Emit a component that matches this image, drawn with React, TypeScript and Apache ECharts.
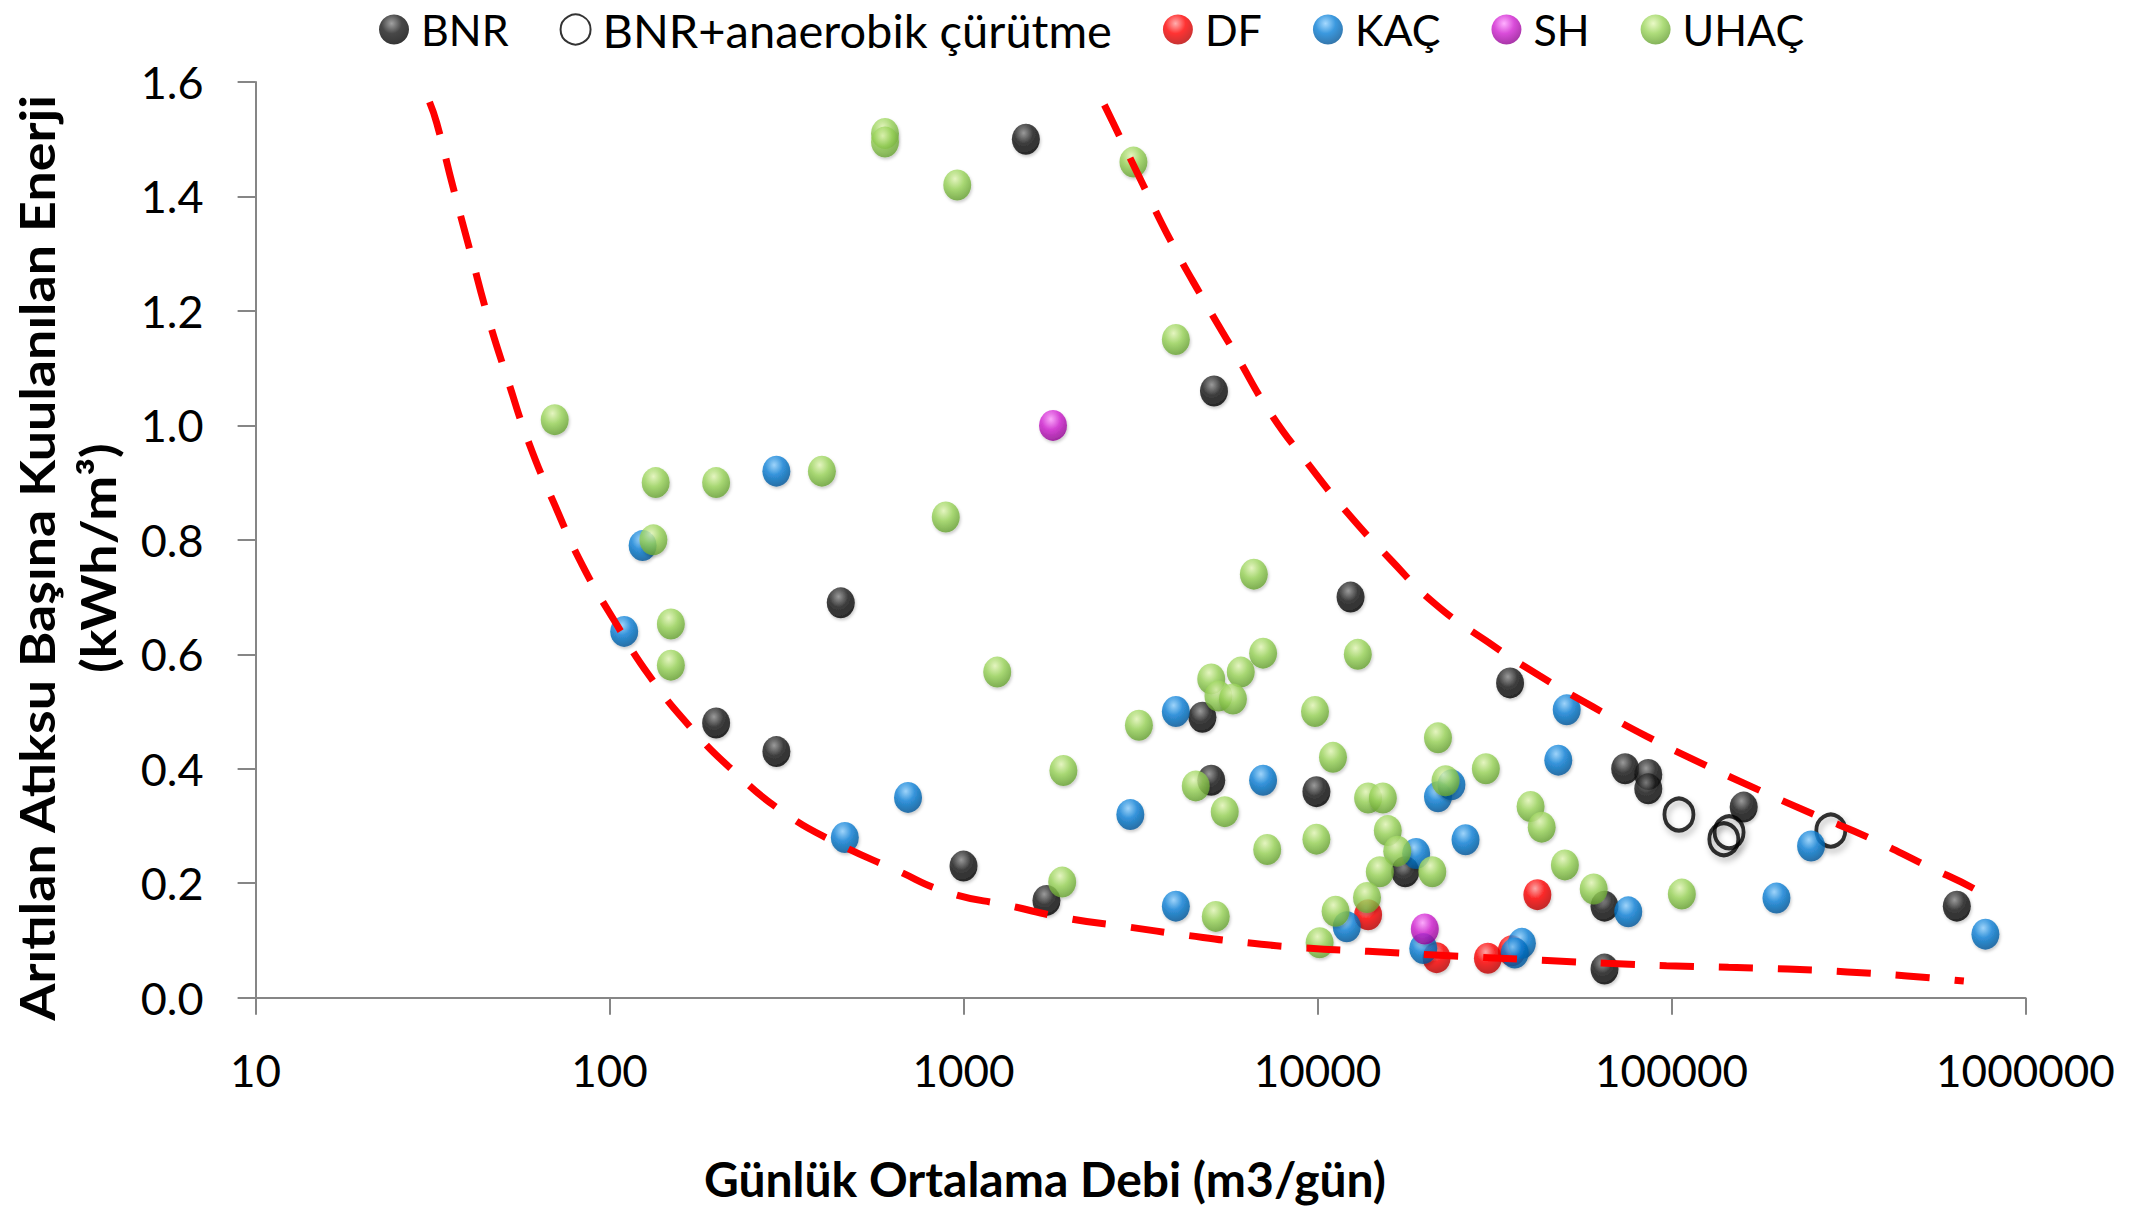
import React, { useEffect, useRef } from 'react';
import * as echarts from 'echarts';

const seriesNames = ['BNR', 'BNR+anaerobik çürütme', 'DF', 'KAÇ', 'SH', 'UHAÇ'];
const xTickValues = [10, 100, 1000, 10000, 100000, 1000000];
const yTickLabels = ['0.0', '0.2', '0.4', '0.6', '0.8', '1.0', '1.2', '1.4', '1.6'];

const xTitle = 'Günlük Ortalama Debi (m3/gün)';
const yTitleLines = ['Arıtılan Atıksu Başına Kuulanılan Enerji', '(kWh/m³)'];

const bnr: number[][] = [
  [1500, 1.5], [5100, 1.06], [450, 0.69], [12400, 0.7], [200, 0.48], [296, 0.43],
  [1000, 0.23], [1715, 0.17], [35000, 0.55], [4730, 0.49], [5010, 0.38], [9930, 0.36],
  [17700, 0.22], [74000, 0.4], [86000, 0.39], [86000, 0.365], [160000, 0.333],
  [640000, 0.16], [64700, 0.05], [64700, 0.16],
];
const bnrAnaerobic: number[][] = [
  [105000, 0.32], [140600, 0.277], [145500, 0.289], [282000, 0.292],
];
const df: number[][] = [
  [41800, 0.18], [13900, 0.145], [21700, 0.07], [30300, 0.069], [35400, 0.082],
];
const kac: number[][] = [
  [110, 0.64], [124, 0.79], [462, 0.28], [697, 0.35], [296, 0.92], [2960, 0.32],
  [3980, 0.5], [7020, 0.38], [3980, 0.16], [12100, 0.124], [19900, 0.086],
  [21900, 0.351], [23900, 0.372], [19000, 0.252], [26200, 0.276], [50600, 0.503],
  [47900, 0.415], [75500, 0.15], [198000, 0.174], [37800, 0.095], [36100, 0.078],
  [248000, 0.265], [771000, 0.111],
];
const sh: number[][] = [
  [1790, 1.0], [20100, 0.12],
];
const uhac: number[][] = [
  [600, 1.51], [600, 1.495], [70, 1.01], [135, 0.9], [200, 0.9], [398, 0.92],
  [133, 0.8], [960, 1.42], [3020, 1.46], [3980, 1.15], [891, 0.84], [149, 0.653],
  [149, 0.581], [6610, 0.74], [1245, 0.569], [13000, 0.6], [7020, 0.602],
  [6070, 0.569], [5010, 0.557], [5250, 0.527], [5770, 0.522], [3130, 0.476],
  [9840, 0.5], [21900, 0.454], [11060, 0.42], [29900, 0.4], [23000, 0.379],
  [1915, 0.397], [4530, 0.37], [5470, 0.325], [13900, 0.349], [15300, 0.349],
  [7210, 0.259], [9930, 0.277], [15800, 0.292], [16800, 0.256], [15000, 0.22],
  [21100, 0.22], [40000, 0.334], [43000, 0.298], [1900, 0.202], [5160, 0.142],
  [13800, 0.175], [11250, 0.151], [10140, 0.096], [50000, 0.232], [60300, 0.19],
  [107000, 0.181],
];
const lowerBound: number[][] = [
  [31, 1.565], [32.5, 1.528], [36.1, 1.417], [40.4, 1.304], [45.3, 1.19],
  [51.6, 1.079], [59.2, 0.969], [70, 0.861], [83.9, 0.755], [103.8, 0.656],
  [129.7, 0.562], [168.4, 0.474], [224, 0.396], [310, 0.324], [439, 0.27],
  [640, 0.224], [904, 0.184], [1340, 0.161], [1955, 0.139], [2890, 0.124],
  [4280, 0.109], [6330, 0.096], [9240, 0.087], [13900, 0.081], [20800, 0.075],
  [44600, 0.065], [65600, 0.06], [96800, 0.056], [145000, 0.053], [213000, 0.05],
  [314000, 0.045], [463000, 0.038], [670000, 0.029],
];
const upperBound: number[][] = [
  [2500, 1.56], [2650, 1.528], [3200, 1.423], [3860, 1.321], [4740, 1.222],
  [5890, 1.123], [7320, 1.024], [9370, 0.934], [12200, 0.846], [16000, 0.767],
  [21400, 0.689], [30200, 0.622], [42300, 0.563], [59700, 0.509], [84900, 0.457],
  [122000, 0.409], [175000, 0.364], [251000, 0.321], [363000, 0.279],
  [520000, 0.232], [738000, 0.186], [800000, 0.168],
];

function ball(light: string, mid: string, dark: string) {
  return new echarts.graphic.RadialGradient(0.42, 0.3, 0.75, [
    { offset: 0, color: light },
    { offset: 0.45, color: mid },
    { offset: 1, color: dark },
  ]);
}

const FONT = 'Lato';
const AXIS_COLOR = '#868686';

export default function App() {
  const ref = useRef<HTMLDivElement>(null);

  useEffect(() => {
    if (!ref.current) return;
    const chart = echarts.init(ref.current, undefined, { renderer: 'svg' });

    const dotSize = [28, 31];
    const scatter = (name: string, data: number[][], color: any, z: number) => ({
      name,
      type: 'scatter',
      data,
      symbol: 'circle',
      symbolSize: dotSize,
      z,
      itemStyle: {
        color,
        shadowBlur: 3,
        shadowColor: 'rgba(0,0,0,0.25)',
        shadowOffsetX: 1,
        shadowOffsetY: 2,
      },
    });

    const boundLine = (name: string, data: number[][]) => ({
      name,
      type: 'line',
      data,
      smooth: true,
      symbol: 'none',
      z: 10,
      lineStyle: { color: '#ff0000', width: 7, type: [34, 25] },
      silent: true,
    });

    chart.setOption({
      animation: false,
      backgroundColor: '#ffffff',
      grid: { left: 255.6, right: 117.6, top: 82, bottom: 210.3 },
      legend: {
        data: seriesNames.map((n, i) =>
          i === 1 ? { name: n, textStyle: { fontSize: 47 } } : { name: n }
        ),
        left: 379,
        top: 6,
        padding: 0,
        itemWidth: 44,
        itemHeight: 30,
        itemGap: 51,
        textStyle: { fontFamily: FONT, fontSize: 43, color: '#000' },
      },
      xAxis: {
        type: 'log',
        logBase: 10,
        min: xTickValues[0],
        max: xTickValues[xTickValues.length - 1],
        splitLine: { show: false },
        axisLine: { show: true, lineStyle: { color: AXIS_COLOR, width: 2 } },
        axisTick: { show: true, length: 17, lineStyle: { color: AXIS_COLOR, width: 2 } },
        minorTick: { show: false },
        axisLabel: {
          margin: 50,
          fontFamily: FONT,
          fontSize: 44,
          color: '#000',
          showMinLabel: true,
          showMaxLabel: true,
          formatter: (v: number) => String(Math.round(v)),
        },
      },
      yAxis: {
        type: 'value',
        min: 0,
        max: 1.6,
        interval: 0.2,
        splitLine: { show: false },
        axisLine: { show: true, lineStyle: { color: AXIS_COLOR, width: 2 } },
        axisTick: { show: true, length: 18, lineStyle: { color: AXIS_COLOR, width: 2 } },
        axisLabel: {
          margin: 52,
          fontFamily: FONT,
          fontSize: 45,
          color: '#000',
          formatter: (v: number) => yTickLabels[Math.round(v / 0.2)] ?? v.toFixed(1),
        },
      },
      graphic: [
        {
          type: 'text',
          x: 67,
          y: 558,
          rotation: Math.PI / 2,
          scaleX: 1.12,
          style: {
            text: yTitleLines.join('\n'),
            fontFamily: FONT,
            fontWeight: 'bold',
            fontSize: 48,
            lineHeight: 61,
            fill: '#000',
            align: 'center',
            verticalAlign: 'middle',
          },
        },
        {
          type: 'text',
          x: 1045,
          y: 1178,
          style: {
            text: xTitle,
            fontFamily: FONT,
            fontWeight: 'bold',
            fontSize: 48,
            fill: '#000',
            align: 'center',
            verticalAlign: 'middle',
          },
        },
      ],
      series: [
        scatter(seriesNames[0], bnr, ball('#8a8a8a', '#1a1a1a', '#000000'), 2),
        {
          name: seriesNames[1],
          type: 'scatter',
          data: bnrAnaerobic,
          symbol: 'circle',
          symbolSize: [29, 32],
          z: 3,
          itemStyle: {
            color: 'rgba(255,255,255,0)',
            borderColor: '#000',
            borderWidth: 4,
            shadowBlur: 6,
            shadowColor: 'rgba(0,0,0,0.35)',
            shadowOffsetX: 2,
            shadowOffsetY: 4,
          },
        },
        scatter(seriesNames[2], df, ball('#ff9a9a', '#ff0000', '#b00000'), 4),
        scatter(seriesNames[3], kac, ball('#8fd0ff', '#0a7fd6', '#004f8f'), 5),
        scatter(seriesNames[4], sh, ball('#ff9cff', '#d020d0', '#8a008a'), 6),
        scatter(seriesNames[5], uhac, ball('#e4f8b8', '#9ad45a', '#5f9a2c'), 7),
        boundLine('alt sınır', lowerBound),
        boundLine('üst sınır', upperBound),
      ],
    });

    return () => chart.dispose();
  }, []);

  return (
    <div
      ref={ref}
      style={{ position: 'fixed', left: 0, top: 0, width: 2143, height: 1208, background: '#fff' }}
    />
  );
}
